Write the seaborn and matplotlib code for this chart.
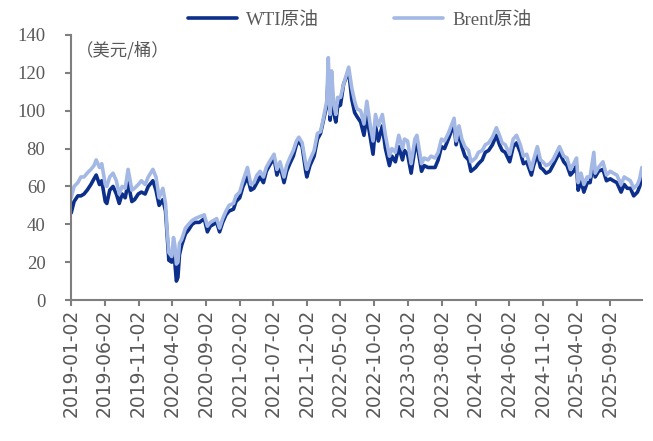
import pandas as pd
import matplotlib.pyplot as plt
import matplotlib.dates as mdates
import seaborn as sns

# price data (USD/bbl)
dates = ['2019-01-02', '2019-01-15', '2019-02-01', '2019-02-15', '2019-03-01', '2019-03-15',
         '2019-04-01', '2019-04-15', '2019-04-25', '2019-05-10', '2019-05-20', '2019-06-05',
         '2019-06-12', '2019-06-25', '2019-07-10', '2019-07-25', '2019-08-07', '2019-08-20',
         '2019-09-03', '2019-09-16', '2019-10-03', '2019-10-15', '2019-11-01', '2019-11-15',
         '2019-12-02', '2019-12-16', '2020-01-06', '2020-01-20', '2020-02-03', '2020-02-20',
         '2020-03-03', '2020-03-10', '2020-03-18', '2020-03-31', '2020-04-08', '2020-04-14',
         '2020-04-21', '2020-04-28', '2020-05-05', '2020-05-15', '2020-06-01', '2020-06-15',
         '2020-07-01', '2020-07-15', '2020-08-03', '2020-08-25', '2020-09-08', '2020-09-21',
         '2020-10-06', '2020-10-20', '2020-11-02', '2020-11-16', '2020-12-01', '2020-12-15',
         '2021-01-04', '2021-01-15', '2021-02-01', '2021-02-16', '2021-03-08', '2021-03-23',
         '2021-04-06', '2021-04-20', '2021-05-04', '2021-05-19', '2021-06-01', '2021-06-15',
         '2021-07-06', '2021-07-19', '2021-08-02', '2021-08-20', '2021-09-01', '2021-09-15',
         '2021-10-01', '2021-10-15', '2021-10-26', '2021-11-10', '2021-11-26', '2021-12-01',
         '2021-12-15', '2022-01-03', '2022-01-18', '2022-02-01', '2022-02-14', '2022-03-01',
         '2022-03-08', '2022-03-16', '2022-03-23', '2022-04-01', '2022-04-11', '2022-04-19',
         '2022-05-02', '2022-05-16', '2022-06-08', '2022-06-22', '2022-07-05', '2022-07-15',
         '2022-08-01', '2022-08-16', '2022-08-29', '2022-09-15', '2022-09-26', '2022-10-07',
         '2022-10-20', '2022-11-07', '2022-11-21', '2022-12-09', '2022-12-20', '2023-01-05',
         '2023-01-20', '2023-02-06', '2023-02-15', '2023-03-01', '2023-03-17', '2023-04-03',
         '2023-04-12', '2023-05-03', '2023-05-15', '2023-06-01', '2023-06-15', '2023-07-03',
         '2023-07-17', '2023-08-01', '2023-08-15', '2023-09-01', '2023-09-27', '2023-10-06',
         '2023-10-19', '2023-11-01', '2023-11-15', '2023-12-01', '2023-12-12', '2024-01-02',
         '2024-01-15', '2024-02-01', '2024-02-15', '2024-03-01', '2024-03-18', '2024-04-05',
         '2024-04-19', '2024-05-01', '2024-05-15', '2024-06-04', '2024-06-20', '2024-07-05',
         '2024-07-22', '2024-08-05', '2024-08-20', '2024-09-10', '2024-09-20', '2024-10-07',
         '2024-10-21', '2024-11-01', '2024-11-15', '2024-12-02', '2024-12-16', '2025-01-15',
         '2025-02-03', '2025-02-18', '2025-03-05', '2025-03-20', '2025-04-02', '2025-04-09',
         '2025-04-22', '2025-05-05', '2025-05-20', '2025-06-02', '2025-06-19', '2025-06-25',
         '2025-07-10', '2025-07-30', '2025-08-15', '2025-09-01', '2025-09-15', '2025-10-01',
         '2025-10-20', '2025-11-03', '2025-11-17', '2025-12-01', '2025-12-16', '2026-01-02',
         '2026-01-12', '2026-01-22']

wti = [46, 52, 55, 55, 56, 58, 61, 64, 66, 61, 63, 52,
       51, 58, 60, 56, 51, 56, 54, 62, 52, 53, 56, 57,
       56, 60, 63, 58, 50, 53, 47, 35, 21, 20, 25, 20,
       10, 12, 24, 29, 35, 37, 40, 41, 41, 43, 36, 39,
       40, 41, 36, 41, 45, 47, 48, 52, 54, 60, 65, 58,
       59, 62, 65, 62, 68, 71, 75, 66, 71, 62, 68, 72,
       76, 82, 84, 81, 68, 65, 71, 76, 85, 88, 95, 103,
       119, 95, 114, 99, 94, 102, 103, 114, 121, 106, 99, 97,
       94, 87, 97, 85, 77, 92, 84, 92, 80, 71, 76, 73,
       81, 74, 79, 77, 67, 80, 83, 68, 71, 70, 70, 70,
       74, 81, 80, 85, 93, 82, 89, 81, 76, 74, 68, 70,
       72, 74, 78, 79, 82, 87, 82, 79, 78, 73, 81, 83,
       78, 72, 73, 66, 71, 77, 70, 69, 67, 68, 71, 78,
       73, 71, 66, 68, 71, 58, 63, 57, 62, 62, 74, 65,
       68, 69, 63, 64, 63, 62, 57, 61, 59, 59, 55, 57,
       60, 65]

brent = [54, 60, 62, 65, 65, 67, 69, 71, 74, 70, 72, 61,
         60, 65, 67, 63, 56, 60, 59, 69, 58, 59, 61, 63,
         61, 65, 69, 65, 54, 59, 51, 37, 25, 23, 33, 29,
         19, 20, 30, 32, 38, 40, 42, 43, 44, 45, 39, 41,
         42, 43, 38, 43, 47, 50, 51, 55, 57, 63, 70, 61,
         62, 66, 68, 65, 70, 73, 77, 69, 73, 65, 71, 75,
         79, 84, 86, 83, 72, 69, 74, 79, 88, 89, 96, 105,
         128, 98, 121, 104, 98, 107, 107, 114, 123, 112, 105, 101,
         100, 93, 105, 91, 84, 98, 92, 98, 87, 76, 80, 78,
         87, 80, 85, 84, 72, 85, 87, 72, 75, 74, 76, 75,
         78, 85, 84, 88, 96, 84, 92, 85, 81, 79, 73, 75,
         78, 79, 82, 83, 86, 91, 87, 83, 82, 77, 85, 87,
         82, 76, 77, 69, 74, 81, 74, 73, 71, 72, 74, 81,
         76, 75, 69, 72, 75, 62, 67, 61, 65, 65, 78, 67,
         70, 73, 66, 68, 67, 66, 61, 65, 64, 63, 59, 61,
         64, 70]

tick_labels = ['2019-01-02', '2019-06-02', '2019-11-02', '2020-04-02', '2020-09-02',
               '2021-02-02', '2021-07-02', '2021-12-02', '2022-05-02', '2022-10-02',
               '2023-03-02', '2023-08-02', '2024-01-02', '2024-06-02', '2024-11-02',
               '2025-04-02', '2025-09-02']

df = pd.DataFrame({'date': pd.to_datetime(dates), 'WTI原油': wti, 'Brent原油': brent})
long_df = df.melt(id_vars='date', var_name='series', value_name='price')

sns.set_style('white')
plt.rcParams['font.family'] = ['Liberation Serif', 'Noto Sans CJK SC', 'DejaVu Sans']

fig = plt.figure(figsize=(6.53, 4.41), dpi=100)
ax = fig.add_axes([0.109, 0.3197, 0.874, 0.601])

sns.lineplot(data=long_df, x='date', y='price', hue='series',
             palette={'WTI原油': '#0B2F8A', 'Brent原油': '#A3B8E4'},
             linewidth=2.6, ax=ax)

gray = '#7F7F7F'
ax.set_ylim(0, 140)
ax.set_yticks(range(0, 141, 20))
ax.set_xlim(df['date'].iloc[0], df['date'].iloc[-1])
ax.set_xticks(pd.to_datetime(tick_labels))
ax.xaxis.set_major_formatter(mdates.DateFormatter('%Y-%m-%d'))
ax.set_xlabel('')
ax.set_ylabel('')

sns.despine(ax=ax)
for side in ['left', 'bottom']:
    ax.spines[side].set_color(gray)
    ax.spines[side].set_linewidth(1.5)

ax.tick_params(axis='y', direction='out', length=4.5, width=1.5, color=gray,
               labelcolor='#595959', labelsize=13.5, pad=14, left=True)
ax.tick_params(axis='x', direction='out', length=4.5, width=1.5, color=gray,
               labelcolor='#595959', pad=2, bottom=True)
for lab in ax.get_xticklabels():
    lab.set_rotation(90)
    lab.set_fontfamily('DejaVu Sans')
    lab.set_fontsize(13.5)

ax.text(0.008, 0.943, '（美元/桶）', transform=ax.transAxes, ha='left', va='center',
        fontsize=12.5, color='#595959', family=['Noto Sans CJK SC', 'DejaVu Sans'])

ax.legend(loc='center', bbox_to_anchor=(0.506, 1.055), ncol=2, frameon=False,
          fontsize=13.5, handlelength=2.6, columnspacing=4.0, handletextpad=0.5,
          labelcolor='#595959')

fig.savefig('out.png', dpi=100)
